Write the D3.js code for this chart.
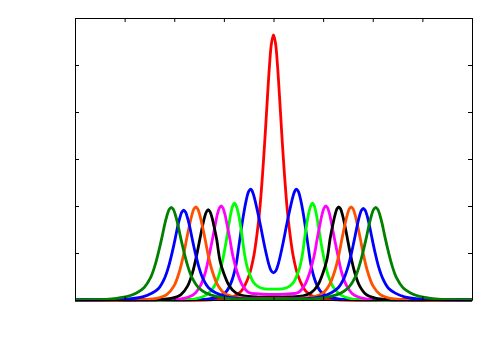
<!DOCTYPE html>
<html>
<head>
<meta charset="utf-8">
<script src="https://cdn.jsdelivr.net/npm/d3@7"></script>
<style>
body { margin: 0; background: #ffffff; }
</style>
</head>
<body>
<script>
// Curve samples (x from -4 to 4, y from 0 to 6)
var red_x = [-4, -1.2, -0.85, -0.65, -0.5, -0.4, -0.3, -0.25, -0.2, -0.16, -0.12, -0.08, -0.04, 0,
  0.04, 0.08, 0.12, 0.16, 0.2, 0.25, 0.3, 0.4, 0.5, 0.65, 0.85, 1.2, 4];
var red_y = [0, 0.006, 0.055, 0.19, 0.5, 0.92, 1.69, 2.26, 2.99, 3.65, 4.35, 5.0, 5.47, 5.64,
  5.47, 5.0, 4.35, 3.65, 2.99, 2.26, 1.69, 0.92, 0.5, 0.19, 0.055, 0.006, 0];

var blue1_x = [-4, -2.0, -1.6, -1.3, -1.1, -0.95, -0.85, -0.76, -0.7, -0.65, -0.6, -0.55, -0.5, -0.46, -0.43, -0.4, -0.35, -0.3, -0.25, -0.2, -0.15, -0.1, -0.05, 0,
  0.05, 0.1, 0.15, 0.2, 0.25, 0.3, 0.35, 0.4, 0.43, 0.46, 0.5, 0.55, 0.6, 0.65, 0.7, 0.76, 0.85, 0.95, 1.1, 1.3, 1.6, 2.0, 4];
var blue1_y = [0, 0, 0.008, 0.025, 0.07, 0.18, 0.38, 0.72, 1.13, 1.5, 1.84, 2.12, 2.31, 2.36, 2.32, 2.23, 2.02, 1.78, 1.52, 1.25, 1.0, 0.78, 0.63, 0.58,
  0.63, 0.78, 1.0, 1.25, 1.52, 1.78, 2.02, 2.23, 2.32, 2.36, 2.31, 2.12, 1.84, 1.5, 1.13, 0.72, 0.38, 0.18, 0.07, 0.025, 0.008, 0, 0];

var lime_x = [-4, -2.0, -1.6, -1.35, -1.2, -1.1, -1.02, -0.95, -0.9, -0.86, -0.82, -0.785, -0.74, -0.7, -0.66, -0.62, -0.58, -0.53, -0.47, -0.4, -0.3, -0.2, 0,
  0.2, 0.3, 0.4, 0.47, 0.53, 0.58, 0.62, 0.66, 0.7, 0.74, 0.785, 0.82, 0.86, 0.9, 0.95, 1.02, 1.1, 1.2, 1.35, 1.6, 2.0, 4];
var lime_y = [0, 0, 0.02, 0.11, 0.28, 0.53, 0.87, 1.27, 1.60, 1.84, 2.01, 2.06, 1.97, 1.8, 1.55, 1.25, 0.95, 0.7, 0.52, 0.37, 0.28, 0.24, 0.23,
  0.24, 0.28, 0.37, 0.52, 0.7, 0.95, 1.25, 1.55, 1.8, 1.97, 2.06, 2.01, 1.84, 1.60, 1.27, 0.87, 0.53, 0.28, 0.11, 0.02, 0, 0];

var magenta_x = [-4, -2.5, -2.055, -1.805, -1.605, -1.475, -1.375, -1.295, -1.225, -1.175, -1.13, -1.09, -1.055, -1.02, -0.98, -0.935, -0.885, -0.815, -0.735, -0.635, -0.5, -0.3, 0,
  0.3, 0.5, 0.635, 0.735, 0.815, 0.885, 0.935, 0.98, 1.02, 1.055, 1.09, 1.13, 1.175, 1.225, 1.295, 1.375, 1.475, 1.605, 1.805, 2.055, 2.5, 4];
var magenta_y = [0, 0, 0.008, 0.035, 0.12, 0.3, 0.58, 0.96, 1.32, 1.60, 1.83, 1.96, 2.0, 1.96, 1.83, 1.60, 1.33, 0.92, 0.6, 0.33, 0.16, 0.13, 0.12,
  0.13, 0.16, 0.33, 0.6, 0.92, 1.33, 1.60, 1.83, 1.96, 2.0, 1.96, 1.83, 1.60, 1.32, 0.96, 0.58, 0.3, 0.12, 0.035, 0.008, 0, 0];

var black_x = [-4, -2.8, -2.315, -2.065, -1.865, -1.735, -1.635, -1.555, -1.485, -1.435, -1.39, -1.35, -1.315, -1.28, -1.24, -1.195, -1.145, -1.075, -0.995, -0.895, -0.765, -0.6, -0.3, 0,
  0.3, 0.6, 0.765, 0.895, 0.995, 1.075, 1.145, 1.195, 1.24, 1.28, 1.315, 1.35, 1.39, 1.435, 1.485, 1.555, 1.635, 1.735, 1.865, 2.065, 2.315, 2.8, 4];
var black_y = [0, 0, 0.01, 0.035, 0.116, 0.29, 0.57, 0.92, 1.29, 1.55, 1.76, 1.88, 1.92, 1.88, 1.76, 1.55, 1.29, 0.82, 0.55, 0.31, 0.155, 0.087, 0.063, 0.06,
  0.065, 0.09, 0.16, 0.32, 0.57, 0.85, 1.33, 1.60, 1.81, 1.94, 1.98, 1.94, 1.81, 1.60, 1.33, 0.95, 0.59, 0.30, 0.12, 0.036, 0.01, 0, 0];

var orange_x = [-4, -3.1, -2.615, -2.355, -2.145, -2.005, -1.9, -1.815, -1.745, -1.691, -1.644, -1.602, -1.565, -1.528, -1.486, -1.439, -1.385, -1.315, -1.23, -1.125, -0.985, -0.775, -0.5, 0,
  0.5, 0.775, 0.985, 1.125, 1.23, 1.315, 1.385, 1.439, 1.486, 1.528, 1.565, 1.602, 1.644, 1.691, 1.745, 1.815, 1.9, 2.005, 2.145, 2.355, 2.615, 3.1, 4];
var orange_y = [0, 0, 0.01, 0.036, 0.12, 0.30, 0.59, 0.95, 1.33, 1.60, 1.81, 1.94, 1.98, 1.94, 1.81, 1.60, 1.33, 0.95, 0.6, 0.32, 0.14, 0.06, 0.035, 0.03,
  0.035, 0.06, 0.14, 0.32, 0.6, 0.95, 1.33, 1.60, 1.81, 1.94, 1.98, 1.94, 1.81, 1.60, 1.33, 0.95, 0.59, 0.30, 0.12, 0.036, 0.01, 0, 0];

var blue2_x = [-4, -3.28, -2.91, -2.638, -2.454, -2.316, -2.196, -2.114, -2.04, -1.976, -1.93, -1.884, -1.847, -1.81, -1.773, -1.736, -1.69, -1.644, -1.58, -1.506, -1.424, -1.304, -1.166, -0.982, -0.71, -0.3, 0,
  0.3, 0.71, 0.982, 1.166, 1.304, 1.424, 1.506, 1.58, 1.644, 1.69, 1.736, 1.773, 1.81, 1.847, 1.884, 1.93, 1.976, 2.04, 2.114, 2.196, 2.316, 2.454, 2.638, 2.91, 3.28, 4];
var blue2_y = [0, 0.006, 0.023, 0.067, 0.143, 0.245, 0.46, 0.71, 1.02, 1.33, 1.57, 1.76, 1.87, 1.91, 1.87, 1.76, 1.57, 1.33, 1.02, 0.71, 0.46, 0.255, 0.152, 0.078, 0.034, 0.02, 0.018,
  0.02, 0.035, 0.08, 0.155, 0.26, 0.47, 0.72, 1.04, 1.36, 1.60, 1.80, 1.91, 1.95, 1.91, 1.80, 1.60, 1.36, 1.04, 0.72, 0.47, 0.25, 0.146, 0.068, 0.023, 0.006, 0];

var green_x = [-4, -3.66, -3.26, -2.96, -2.76, -2.61, -2.48, -2.39, -2.31, -2.24, -2.19, -2.14, -2.1, -2.06, -2.02, -1.98, -1.93, -1.88, -1.81, -1.73, -1.64, -1.51, -1.36, -1.16, -0.86, -0.4, 0,
  0.4, 0.86, 1.16, 1.36, 1.51, 1.64, 1.73, 1.81, 1.88, 1.93, 1.98, 2.02, 2.06, 2.1, 2.14, 2.19, 2.24, 2.31, 2.39, 2.48, 2.61, 2.76, 2.96, 3.26, 3.66, 4];
var green_y = [0, 0.006, 0.024, 0.07, 0.15, 0.26, 0.47, 0.73, 1.05, 1.37, 1.62, 1.82, 1.93, 1.97, 1.93, 1.82, 1.62, 1.37, 1.05, 0.73, 0.47, 0.26, 0.15, 0.075, 0.03, 0.015, 0.012,
  0.015, 0.03, 0.075, 0.15, 0.26, 0.47, 0.73, 1.05, 1.37, 1.62, 1.82, 1.93, 1.97, 1.93, 1.82, 1.62, 1.37, 1.05, 0.73, 0.47, 0.26, 0.15, 0.07, 0.024, 0.006, 0];

var x_ticks = [-4, -3, -2, -1, 0, 1, 2, 3, 4];
var y_ticks = [0, 1, 2, 3, 4, 5, 6];

function draw_chart(){
  var w = 500;
  var h = 350;

  var svg = d3.select("body").append("svg")
  .attr("width", w)
  .attr("height", h);

  var x = d3.scaleLinear().domain([-4, 4]).range([75, 472]);
  var y = d3.scaleLinear().domain([0, 6]).range([300, 18]);

  // curves, drawn from the middle outwards
  var curves = [
    {xs: red_x, ys: red_y, color: "#ff0000"},
    {xs: blue1_x, ys: blue1_y, color: "#0000ff"},
    {xs: lime_x, ys: lime_y, color: "#00ff00"},
    {xs: magenta_x, ys: magenta_y, color: "#ff00ff"},
    {xs: black_x, ys: black_y, color: "#000000"},
    {xs: orange_x, ys: orange_y, color: "#ff5000"},
    {xs: blue2_x, ys: blue2_y, color: "#0000ff"},
    {xs: green_x, ys: green_y, color: "#008000"}
  ];

  var line = d3.line()
  .x(function(d){ return x(d[0]); })
  .y(function(d){ return y(d[1]); })
  .curve(d3.curveCatmullRom.alpha(0.5));

  svg.selectAll("path.curve")
  .data(curves)
  .enter()
  .append("path")
  .attr("class", "curve")
  .attr("d", function(d){
    return line(d3.zip(d.xs, d.ys));
  })
  .style("fill", "none")
  .style("stroke", function(d){ return d.color; })
  .style("stroke-width", 2.8)
  .style("stroke-linejoin", "round");

  // frame with inward ticks, no labels
  var ax_bottom = d3.axisBottom(x).tickValues(x_ticks).tickSize(-4).tickSizeOuter(0).tickFormat("");
  var ax_top = d3.axisTop(x).tickValues(x_ticks).tickSize(-4).tickSizeOuter(0).tickFormat("");
  var ax_left = d3.axisLeft(y).tickValues(y_ticks).tickSize(-4).tickSizeOuter(0).tickFormat("");
  var ax_right = d3.axisRight(y).tickValues(y_ticks).tickSize(-4).tickSizeOuter(0).tickFormat("");

  svg.append("g").attr("transform", "translate(0,300)").call(ax_bottom);
  svg.append("g").attr("transform", "translate(0,18)").call(ax_top);
  svg.append("g").attr("transform", "translate(75,0)").call(ax_left);
  svg.append("g").attr("transform", "translate(472,0)").call(ax_right);

  svg.selectAll(".domain, .tick line")
  .style("stroke", "#000000")
  .style("stroke-width", 1);
}

draw_chart();
</script>
</body>
</html>
